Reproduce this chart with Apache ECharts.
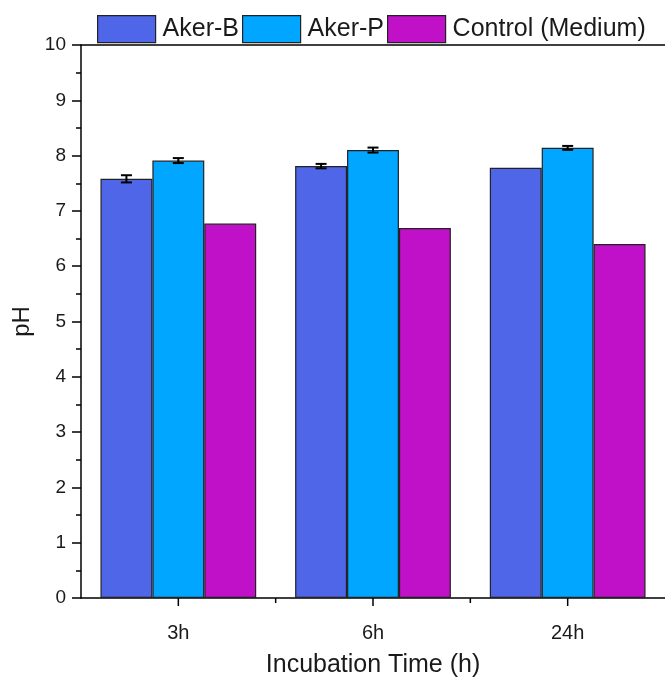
<!DOCTYPE html>
<html>
<head>
<meta charset="utf-8">
<script src="https://cdn.jsdelivr.net/npm/echarts@6/dist/echarts.min.js"></script>
<style>
html,body{margin:0;padding:0;background:#fff;}
#main{width:665px;height:681px;}
</style>
</head>
<body>
<div id="main"></div>
<script>
const categories = ['3h', '6h', '24h'];
const seriesNames = ['Aker-B', 'Aker-P', 'Control (Medium)'];
const akerB = [7.58, 7.81, 7.78];
const akerP = [7.91, 8.10, 8.14];
const control = [6.77, 6.69, 6.40];
const akerBErr = [0.065, 0.04, 0];
const akerPErr = [0.045, 0.045, 0.035];
const controlErr = [0, 0, 0];
const yTicks = [0, 1, 2, 3, 4, 5, 6, 7, 8, 9, 10];

const colors = ['#4F66E8', '#00A6FF', '#C010C8'];
const values = [akerB, akerP, control];
const errors = [akerBErr, akerPErr, controlErr];
const font = 'Liberation Sans, Arial, sans-serif';
const txt = '#1a1a1a';
const catGap = 0.2;

const chart = echarts.init(document.getElementById('main'), null, {renderer: 'canvas'});

const barSeries = seriesNames.map((name, i) => ({
  name: name,
  type: 'bar',
  xAxisIndex: 0,
  data: values[i],
  barGap: '0%',
  barCategoryGap: (catGap * 100) + '%',
  itemStyle: {color: colors[i], borderColor: '#222', borderWidth: 1.2},
  emphasis: {disabled: true},
  z: 2
}));

const errSeries = seriesNames.map((name, i) => ({
  type: 'custom',
  xAxisIndex: 0,
  data: values[i].map((v, k) => [k, v, errors[i][k]]),
  renderItem: function (params, api) {
    const k = api.value(0), v = api.value(1), e = api.value(2);
    if (!e) return null;
    const band = api.size([1, 0])[0];
    const bw = band * (1 - catGap) / 3;
    const c = api.coord([k, v]);
    const x = c[0] + (i - 1) * bw;
    const top = api.coord([k, v + e])[1];
    const bot = api.coord([k, v - e])[1];
    const hw = 5.5;
    const st = {stroke: '#000', lineWidth: 2};
    return {type: 'group', children: [
      {type: 'line', shape: {x1: x, y1: top, x2: x, y2: bot}, style: st},
      {type: 'line', shape: {x1: x - hw, y1: top, x2: x + hw, y2: top}, style: st},
      {type: 'line', shape: {x1: x - hw, y1: bot, x2: x + hw, y2: bot}, style: st}
    ]};
  },
  z: 5,
  silent: true
}));

// x-axis ticks: long ticks at category centres, short ticks at boundaries between groups
const tickSeries = {
  type: 'custom',
  xAxisIndex: 0,
  clip: false,
  silent: true,
  data: categories.map((c, k) => [k, 0]),
  renderItem: function (params, api) {
    const k = api.value(0);
    const band = api.size([1, 0])[0];
    const c = api.coord([k, 0]);
    const st = {stroke: '#000', lineWidth: 1.5};
    const children = [{type: 'line', shape: {x1: c[0], y1: c[1], x2: c[0], y2: c[1] + 8}, style: st}];
    if (k > 0) {
      const x = c[0] - band / 2;
      children.push({type: 'line', shape: {x1: x, y1: c[1], x2: x, y2: c[1] + 5}, style: st});
    }
    return {type: 'group', children: children};
  },
  z: 6
};

chart.setOption({
  animation: false,
  backgroundColor: '#fff',
  textStyle: {fontFamily: font, color: txt},
  legend: {
    data: seriesNames,
    left: 92,
    top: 10,
    itemWidth: 58,
    itemHeight: 27,
    itemGap: 3,
    icon: 'rect',
    textStyle: {fontFamily: font, fontSize: 25, color: txt, padding: [0, 0, 0, 2]},
    itemStyle: {borderColor: '#222', borderWidth: 1.2}
  },
  grid: {left: 81, right: 0, top: 45, bottom: 83, containLabel: false, outerBoundsMode: 'none'},
  xAxis: [
    {
      type: 'category',
      data: categories,
      position: 'bottom',
      axisLine: {lineStyle: {color: '#000', width: 1.5}},
      axisTick: {show: false},
      axisLabel: {fontFamily: font, fontSize: 20, color: txt, margin: 25},
      name: 'Incubation Time (h)',
      nameLocation: 'middle',
      nameGap: 55,
      nameTextStyle: {fontFamily: font, fontSize: 25, color: txt}
    },
    {
      type: 'category',
      data: categories,
      position: 'top',
      axisLine: {lineStyle: {color: '#000', width: 1.5}},
      axisTick: {show: false},
      axisLabel: {show: false}
    }
  ],
  yAxis: {
    type: 'value',
    min: yTicks[0],
    max: yTicks[yTicks.length - 1],
    interval: 1,
    axisLine: {show: true, lineStyle: {color: '#000', width: 1.5}},
    axisTick: {show: true, length: 9, lineStyle: {color: '#000', width: 1.5}},
    minorTick: {show: true, splitNumber: 2, length: 5, lineStyle: {color: '#000', width: 1.5}},
    splitLine: {show: false},
    axisLabel: {fontFamily: font, fontSize: 19, color: txt, margin: 15},
    name: 'pH',
    nameLocation: 'middle',
    nameRotate: 90,
    nameGap: 43,
    nameTextStyle: {fontFamily: font, fontSize: 24, color: txt}
  },
  series: barSeries.concat(errSeries, [tickSeries])
});
</script>
</body>
</html>
